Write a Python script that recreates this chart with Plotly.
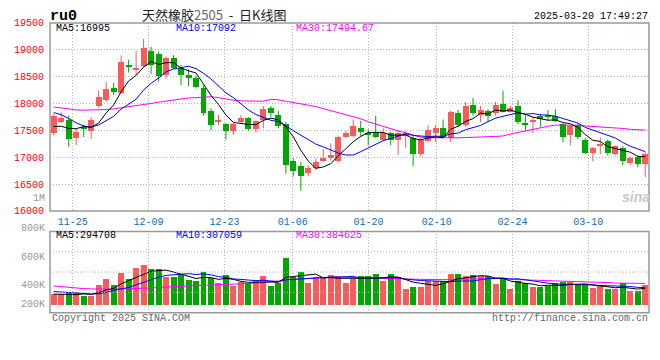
import plotly.graph_objects as go

# ---------------- data ----------------
dates = [
    "2024-11-20", "2024-11-21", "2024-11-22", "2024-11-25", "2024-11-26", "2024-11-27", "2024-11-28", "2024-11-29",
    "2024-12-02", "2024-12-03", "2024-12-04", "2024-12-05", "2024-12-06", "2024-12-09", "2024-12-10", "2024-12-11",
    "2024-12-12", "2024-12-13", "2024-12-16", "2024-12-17", "2024-12-18", "2024-12-19", "2024-12-20", "2024-12-23",
    "2024-12-24", "2024-12-25", "2024-12-26", "2024-12-27", "2024-12-30", "2024-12-31", "2025-01-02", "2025-01-03",
    "2025-01-06", "2025-01-07", "2025-01-08", "2025-01-09", "2025-01-10", "2025-01-13", "2025-01-14", "2025-01-15",
    "2025-01-16", "2025-01-17", "2025-01-20", "2025-01-21", "2025-01-22", "2025-01-23", "2025-01-24", "2025-01-27",
    "2025-02-05", "2025-02-06", "2025-02-07", "2025-02-10", "2025-02-11", "2025-02-12", "2025-02-13", "2025-02-14",
    "2025-02-17", "2025-02-18", "2025-02-19", "2025-02-20", "2025-02-21", "2025-02-24", "2025-02-25", "2025-02-26",
    "2025-02-27", "2025-02-28", "2025-03-03", "2025-03-04", "2025-03-05", "2025-03-06", "2025-03-07", "2025-03-10",
    "2025-03-11", "2025-03-12", "2025-03-13", "2025-03-14", "2025-03-17", "2025-03-18", "2025-03-19", "2025-03-20",
]
opens = [17458, 17655, 17702, 17351, 17554, 17488, 17952, 18071, 18292, 18191,
         18720, 18643, 18696, 18988, 18917, 18536, 18845, 18667, 18530, 18470,
         18298, 17863, 17673, 17613, 17494, 17655, 17732, 17518, 17697, 17923,
         17786, 17613, 16929, 16845, 16702, 16810, 16923, 16982, 16940, 17387,
         17399, 17548, 17447, 17447, 17316, 17447, 17316, 17405, 17357, 17060,
         17298, 17458, 17548, 17357, 17816, 17595, 17970, 17792, 17863, 17833,
         17994, 17851, 17952, 17625, 17655, 17762, 17786, 17762, 17625, 17417,
         17595, 17327, 17089, 17226, 17298, 17060, 17179, 16899, 17012, 16869]
highs = [17804, 17833, 17774, 17536, 17607, 17744, 18238, 18399, 18381, 18893,
         18815, 18976, 19202, 19054, 18964, 18875, 18899, 18720, 18637, 18518,
         18339, 17911, 17786, 17637, 17637, 17786, 17744, 17685, 17952, 17952,
         17863, 17655, 16970, 16911, 16851, 16970, 17149, 17256, 17399, 17488,
         17702, 17673, 17518, 17774, 17536, 17476, 17506, 17488, 17399, 17357,
         17595, 17595, 17702, 17863, 17881, 18024, 18101, 17952, 17893, 18030,
         18238, 17952, 18060, 17804, 17744, 17804, 17875, 17893, 17637, 17595,
         17625, 17357, 17191, 17369, 17327, 17220, 17208, 17012, 17030, 17089]
lows = [17411, 17637, 17191, 17226, 17375, 17339, 17923, 18030, 18161, 18173,
        18577, 18518, 18667, 18548, 18411, 18458, 18637, 18339, 18321, 18280,
        17774, 17506, 17595, 17327, 17417, 17625, 17494, 17458, 17536, 17744,
        17536, 16691, 16643, 16375, 16643, 16762, 16911, 16940, 16893, 17357,
        17375, 17387, 17220, 17357, 17298, 17220, 17042, 17179, 16833, 17012,
        17280, 17280, 17357, 17280, 17566, 17566, 17774, 17655, 17655, 17774,
        17833, 17833, 17613, 17494, 17447, 17566, 17685, 17655, 17280, 17220,
        17339, 17060, 16923, 17060, 17030, 17030, 16851, 16851, 16810, 16631]
closes = [17774, 17732, 17339, 17470, 17536, 17702, 18131, 18280, 18208, 18774,
          18696, 18655, 19042, 18726, 18518, 18851, 18667, 18530, 18476, 18310,
          17833, 17607, 17679, 17494, 17625, 17726, 17518, 17667, 17893, 17821,
          17583, 16851, 16744, 16643, 16810, 16911, 16988, 17042, 17387, 17447,
          17577, 17476, 17417, 17387, 17447, 17316, 17458, 17458, 17060, 17316,
          17506, 17548, 17375, 17851, 17595, 17952, 17816, 17881, 17774, 17970,
          17851, 17911, 17655, 17607, 17702, 17714, 17762, 17685, 17369, 17577,
          17375, 17089, 17167, 17256, 17089, 17208, 16923, 16988, 16869, 17060]
volumes = [198000, 198000, 221000, 221000, 164000, 164000, 351000, 453000, 351000, 566000,
           447000, 656000, 707000, 622000, 622000, 487000, 487000, 532000, 436000, 419000,
           572000, 475000, 379000, 521000, 334000, 396000, 390000, 419000, 504000, 334000,
           379000, 826000, 481000, 572000, 385000, 481000, 481000, 521000, 504000, 385000,
           453000, 504000, 504000, 538000, 419000, 538000, 481000, 283000, 317000, 317000,
           419000, 419000, 419000, 538000, 538000, 504000, 521000, 504000, 504000, 368000,
           470000, 283000, 419000, 379000, 317000, 317000, 334000, 385000, 402000, 402000,
           345000, 345000, 300000, 334000, 283000, 283000, 385000, 238000, 238000, 351000]

# moving-average values before a full window exists
ma5_head = [17570, 17575, 17535, 17530]
ma10_head = [17830, 17790, 17720, 17640, 17580, 17560, 17600, 17680, 17760]
ma30_head = [17935, 17917, 17893, 17881, 17875, 17875, 17881, 17887, 17899, 17917,
             17946, 17964, 17982, 18000, 18024, 18048, 18066, 18083, 18101, 18113,
             18125, 18125, 18107, 18077, 18060, 18048, 18042, 18042, 18042]
vma5_head = [198000, 198000, 192000, 187000]
vma10_head = [243000, 232000, 221000, 209000, 198000, 198000, 204000, 226000, 266000]
vma30_head = [340000, 328000, 311000, 300000, 294000, 289000, 283000, 283000, 283000, 289000,
              289000, 294000, 300000, 306000, 317000, 323000, 328000, 334000, 340000, 345000,
              351000, 357000, 362000, 368000, 373000, 379000, 385000, 396000, 396000]

tick_dates = ["2024-11-25", "2024-12-09", "2024-12-23", "2025-01-06",
              "2025-01-20", "2025-02-10", "2025-02-24", "2025-03-10"]
price_ticks = [16000, 16500, 17000, 17500, 18000, 18500, 19000, 19500]
price_ma_text = ["MA5:16995", "MA10:17092", "MA30:17494.67"]
vol_ma_text = ["MA5:294708", "MA10:307059", "MA30:384625"]
vol_axis_text = ["1M", "800K", "600K", "400K", "200K"]
title_name = "天然橡胶"
title_code = "2505"
title_kind = "日K线图"
symbol = "ru0"
stamp = "2025-03-20 17:49:27"

# ---------------- helpers ----------------
W, H = 660, 360
def px(x):
    return x / W
def py(y):
    return 1 - y / H

def moving(vals, n, head):
    out = []
    for i in range(len(vals)):
        if i < n - 1:
            out.append(head[i])
        else:
            out.append(sum(vals[i - n + 1:i + 1]) / n)
    return out

RED = "#fa5a5a"
GREEN = "#00a800"
MONO = "Liberation Mono"

n = len(dates)
idx = list(range(n))
up = [c >= o for o, c in zip(opens, closes)]
colors = [RED if u else GREEN for u in up]
body_base = [min(o, c) for o, c in zip(opens, closes)]
body_h = [max(abs(c - o), 18) for o, c in zip(opens, closes)]

fig = go.Figure()

# wicks
for flag, col in ((True, RED), (False, GREEN)):
    wx, wy = [], []
    for i in idx:
        if up[i] == flag:
            wx += [i, i, None]
            wy += [lows[i], highs[i], None]
    fig.add_trace(go.Scatter(x=wx, y=wy, mode="lines", line=dict(color=col, width=1),
                             hoverinfo="skip", showlegend=False, xaxis="x", yaxis="y"))

# bodies
fig.add_trace(go.Bar(x=idx, y=body_h, base=body_base, width=0.8, marker=dict(color=colors, line=dict(width=0)),
                     showlegend=False, xaxis="x", yaxis="y"))

# price MAs
for vals, col in ((moving(closes, 30, ma30_head), "#ff00ff"),
                  (moving(closes, 10, ma10_head), "#0000ff"),
                  (moving(closes, 5, ma5_head), "#000000")):
    fig.add_trace(go.Scatter(x=idx, y=vals, mode="lines", line=dict(color=col, width=1),
                             showlegend=False, xaxis="x", yaxis="y"))

# volume
fig.add_trace(go.Bar(x=idx, y=volumes, width=0.8, marker=dict(color=colors, line=dict(width=0)),
                     showlegend=False, xaxis="x2", yaxis="y2"))
for vals, col in ((moving(volumes, 30, vma30_head), "#ff00ff"),
                  (moving(volumes, 10, vma10_head), "#0000ff"),
                  (moving(volumes, 5, vma5_head), "#000000")):
    fig.add_trace(go.Scatter(x=idx, y=vals, mode="lines", line=dict(color=col, width=1),
                             showlegend=False, xaxis="x2", yaxis="y2"))

tickvals = [dates.index(d) * n / (n - 1) - 0.5 for d in tick_dates]
ticktext = [d[5:] for d in tick_dates]

GRID = "#b4b4b4"
DOT = "1px,2px"
xdom = [px(50), px(649)]
fig.update_layout(
    width=W, height=H, margin=dict(l=0, r=0, t=0, b=0),
    paper_bgcolor="white", plot_bgcolor="white", bargap=0, showlegend=False,
    xaxis=dict(domain=xdom, range=[-0.5, n - 0.5], anchor="y", tickvals=tickvals, ticktext=ticktext,
               tickfont=dict(family=MONO, size=10, color="#0a6ebd"), ticks="outside", ticklen=1,
               tickcolor="rgba(0,0,0,0)", showgrid=True, gridcolor=GRID, griddash=DOT, gridwidth=1,
               zeroline=False, showline=False, fixedrange=True),
    yaxis=dict(domain=[py(213), py(18.5)], range=[16000, 19500], anchor="x", tickvals=price_ticks,
               ticktext=[str(v) for v in price_ticks],
               tickfont=dict(family=MONO, size=10, color="#ff0000"), ticks="outside", ticklen=3,
               tickcolor="rgba(0,0,0,0)", showgrid=True, gridcolor=GRID, griddash=DOT, gridwidth=1,
               zeroline=False, showline=False),
    xaxis2=dict(domain=xdom, range=[-0.5, n - 0.5], anchor="y2", tickvals=tickvals, showticklabels=False,
                showgrid=True, gridcolor=GRID, griddash=DOT, gridwidth=1, zeroline=False, showline=False),
    yaxis2=dict(domain=[py(318.3), py(234.3)], range=[-129000, 1297000], anchor="x2",
                showticklabels=False, showgrid=False, zeroline=False, showline=False),
)

shapes = []
for f in (0.25, 0.5, 0.75):
    shapes.append(dict(type="line", xref="x2 domain", yref="y2 domain", x0=0, x1=1, y0=f, y1=f,
                       line=dict(color=GRID, width=1, dash=DOT)))
for top, bot in ((18.5, 213), (234.3, 318.3)):
    shapes.append(dict(type="rect", xref="paper", yref="paper", x0=px(50), x1=px(649), y0=py(bot), y1=py(top),
                       line=dict(color="#999999", width=1.5), fillcolor="rgba(0,0,0,0)", layer="above"))
fig.update_layout(shapes=shapes)

ann = []
def text(x, y, s, color="#000", size=10, xanchor="left", family=MONO):
    ann.append(dict(x=px(x), y=py(y), xref="paper", yref="paper", text=s, showarrow=False,
                    xanchor=xanchor, yanchor="middle", font=dict(family=family, size=size, color=color)))

text(48, 11.5, "<b>" + symbol + "</b>", size=15)
text(140, 9.5, title_name + "<span style='color:#666666'>" + title_code + "</span>  -  " + title_kind,
     color="#222222", size=13, family="Noto Sans CJK SC")
text(650, 11.7, stamp, xanchor="right")
for s, x, col in zip(price_ma_text, (54, 174, 294), ("#000000", "#0000ff", "#ff00ff")):
    text(x, 24.3, s, color=col)
for s, x, col in zip(vol_ma_text, (54, 174, 294), ("#000000", "#0000ff", "#ff00ff")):
    text(x, 238.5, s, color=col)
for s, y in zip(vol_axis_text, (200, 230.7, 261, 290, 310)):
    text(46.5, y, s, color="#999999", xanchor="right")
text(50, 324.5, "Copyright 2025 SINA.COM", color="#666666")
text(650, 324.5, "http://finance.sina.com.cn", color="#666666", xanchor="right")
text(636, 199, "<b><i>sina</i></b>", color="#c8c8c8", size=14, xanchor="center", family="Liberation Sans")
fig.update_layout(annotations=ann)

fig.write_html("out.html", config={"displayModeBar": False},
               post_script="document.body.style.margin='0';document.body.style.padding='0';")
